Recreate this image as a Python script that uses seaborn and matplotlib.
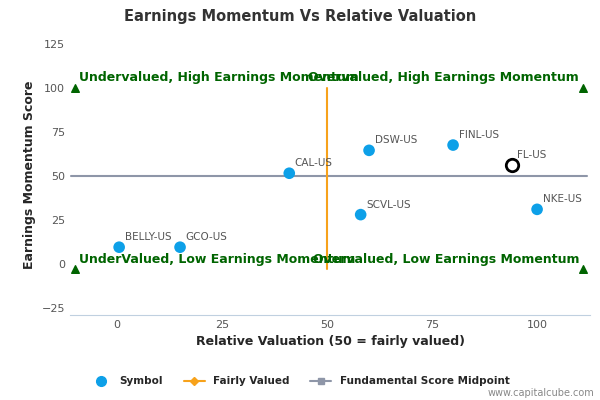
import matplotlib
matplotlib.use("Agg")
import matplotlib.pyplot as plt
import seaborn as sns
import pandas as pd
from matplotlib.lines import Line2D

symbols = ["BELLY-US", "GCO-US", "CAL-US", "DSW-US", "FINL-US", "FL-US", "SCVL-US", "NKE-US"]
valuation = [0.5, 15, 41, 60, 80, 94, 58, 100]
momentum = [9.5, 9.5, 51.5, 64.5, 67.5, 56, 28, 31]
highlight = "FL-US"
fair_x = [50, 50]
fair_y = [-3, 100]
mid_x = [-11, 112]
mid_y = [50, 50]
corner_x = [-10, 111, -10, 111]
corner_y = [100, 100, -3, -3]
quad_labels = ["Undervalued, High Earnings Momentum", "Overvalued, High Earnings Momentum",
               "UnderValued, Low Earnings Momentum", "Overvalued, Low Earnings Momentum"]

df = pd.DataFrame({"symbol": symbols, "x": valuation, "y": momentum})
sns.set_style("white")
fig = plt.figure(figsize=(6, 4), dpi=100)
ax = fig.add_axes([70/600, 85/400, 520/600, 280/400])

ax.plot(mid_x, mid_y, color="#8e96a8", lw=1.5, zorder=1)
ax.plot(fair_x, fair_y, color="#f7a21b", lw=1.5, zorder=1)
sns.scatterplot(data=df[df.symbol != highlight], x="x", y="y", color="#0da0e8", s=70, edgecolor="none", ax=ax, zorder=3)
h = df[df.symbol == highlight]
ax.scatter(h.x, h.y, s=80, facecolor="white", edgecolor="black", linewidth=2, zorder=4)
for s, x, y in zip(symbols, valuation, momentum):
    ax.annotate(s, (x, y), xytext=(4, 5), textcoords="offset points", fontsize=7.5, color="#555555")
ax.scatter(corner_x, corner_y, marker="^", color="#006400", s=30, zorder=3)
ax.text(-9, 102, quad_labels[0], color="#006400", fontsize=9, fontweight="bold", ha="left", va="bottom")
ax.text(110, 102, quad_labels[1], color="#006400", fontsize=9, fontweight="bold", ha="right", va="bottom")
ax.text(-9, -1, quad_labels[2], color="#006400", fontsize=9, fontweight="bold", ha="left", va="bottom")
ax.text(110, -1, quad_labels[3], color="#006400", fontsize=9, fontweight="bold", ha="right", va="bottom")

ax.set_xlim(-11.2, 112.6)
ax.set_ylim(-29, 130)
ax.set_xticks([0, 25, 50, 75, 100])
ax.set_yticks([-25, 0, 25, 50, 75, 100, 125])
ax.tick_params(labelsize=8, colors="#555555", length=0)
for sp in ["top", "right", "left"]:
    ax.spines[sp].set_visible(False)
ax.spines["bottom"].set_color("#c0d0e0")
ax.set_xlabel("Relative Valuation (50 = fairly valued)", fontsize=9, fontweight="bold")
ax.set_ylabel("Earnings Momentum Score", fontsize=9, fontweight="bold")
fig.text(0.5, 0.96, "Earnings Momentum Vs Relative Valuation", ha="center", va="center", fontsize=10.5, fontweight="bold", color="#333333")

handles = [Line2D([], [], marker="o", color="#0da0e8", ls="none", markersize=7),
           Line2D([], [], marker="D", color="#f7a21b", markersize=4, lw=1.5),
           Line2D([], [], marker="s", color="#8e96a8", markersize=5, lw=1.5)]
fig.legend(handles, ["Symbol", "Fairly Valued", "Fundamental Score Midpoint"], loc="center",
           bbox_to_anchor=(0.5, 0.047), ncol=3, frameon=False, prop={"size": 7.5, "weight": "bold"})
fig.text(0.99, 0.01, "www.capitalcube.com", ha="right", fontsize=7, color="#888888")
fig.savefig("out.png", dpi=100)
